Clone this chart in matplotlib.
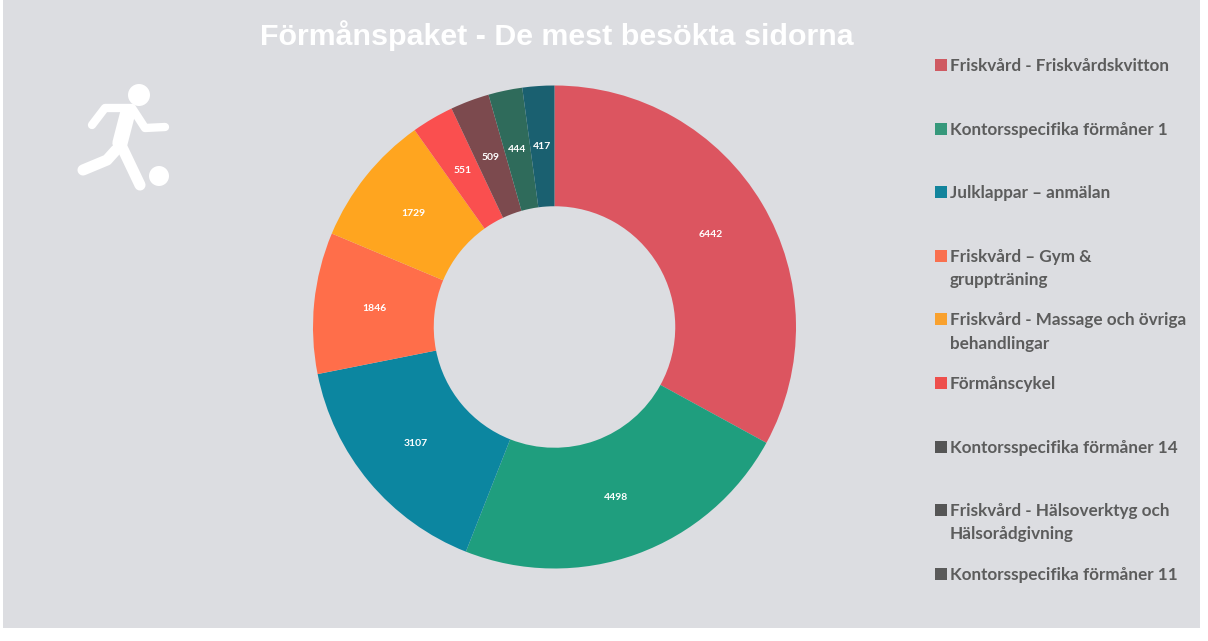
import matplotlib
matplotlib.use('Agg')
import matplotlib.pyplot as plt
from matplotlib.patches import Rectangle, Circle

title = 'Förmånspaket - De mest besökta sidorna'
categories = ['Friskvård - Friskvårdskvitton',
              'Kontorsspecifika förmåner 1',
              'Julklappar – anmälan',
              'Friskvård – Gym &\ngruppträning',
              'Friskvård - Massage och övriga\nbehandlingar',
              'Förmånscykel',
              'Kontorsspecifika förmåner 14',
              'Friskvård - Hälsoverktyg och\nHälsorådgivning',
              'Kontorsspecifika förmåner 11']
values = [6442, 4498, 3107, 1846, 1729, 551, 509, 444, 417]
colors = ['#dc5560', '#1f9e7e', '#0c86a0', '#ff6e4a', '#ffa51f',
          '#fa4f4f', '#7c4a4e', '#2f6b5b', '#1a6070']
legend_colors = ['#cf5a62', '#36987b', '#12849c', '#f9704f', '#f9a12e',
                 '#ee4f4c', '#555555', '#555555', '#5a5a5a']

W, H = 1208, 641
bg_color = '#dcdde1'
text_color = '#5c5c5c'

fig = plt.figure(figsize=(W / 100, H / 100), dpi=100, facecolor='white')

# overlay in pixel coords for panel, title, icon and legend
bg = fig.add_axes([0, 0, 1, 1])
bg.set_xlim(0, W)
bg.set_ylim(H, 0)
bg.axis('off')
bg.add_patch(Rectangle((3, 0), 1197, 628, color=bg_color, lw=0))

bg.text(557, 36, title, color='white', fontsize=21.9, fontweight='bold',
        family='Liberation Sans', ha='center', va='center')

# donut
cx, cy, r = 554.5, 327, 241.5
ax = fig.add_axes([(cx - r) / W, (H - cy - r) / H, 2 * r / W, 2 * r / H])
ax.pie(values, colors=colors, startangle=90, counterclock=False,
       radius=1, wedgeprops=dict(width=0.5, linewidth=0),
       autopct=lambda p: f'{round(p * sum(values) / 100)}', pctdistance=0.75,
       textprops=dict(color='white', fontsize=7.5, family='Lato', fontweight='bold'))
ax.set_xlim(-1, 1)
ax.set_ylim(-1, 1)

# legend, one row every 63.6 px
for i, (cat, col) in enumerate(zip(categories, legend_colors)):
    y = 65 + i * 63.6
    bg.add_patch(Rectangle((935, y - 6), 12, 12, color=col, lw=0))
    bg.text(950, y - 7, cat, color=text_color, fontsize=12.3, family='Lato',
            fontweight='bold', ha='left', va='top', linespacing=1.55)

# player icon
white = dict(color='white', solid_capstyle='round', solid_joinstyle='round')
bg.add_patch(Circle((139, 95), 11, color='white', lw=0))
bg.add_patch(Circle((159, 176), 10, color='white', lw=0))
bg.plot([92, 105, 132, 145, 165], [125, 108, 108, 128, 127], lw=6, **white)
bg.plot([128, 120], [112, 143], lw=11, **white)
bg.plot([120, 140], [143, 185], lw=8, **white)
bg.plot([116, 107, 83], [150, 160, 170], lw=8, **white)

fig.savefig('out.png', dpi=100)
